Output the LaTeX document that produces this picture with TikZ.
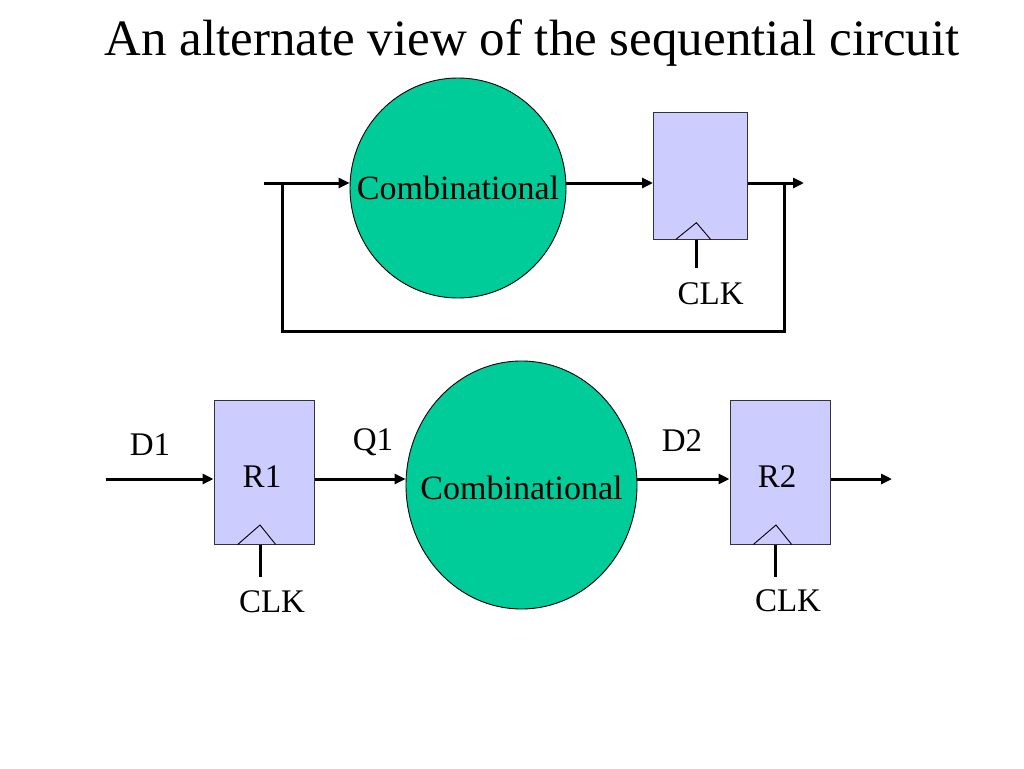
\documentclass[tikz,border=0pt]{standalone}
\usepackage{fontspec}
\setmainfont{Liberation Serif}
\usetikzlibrary{arrows.meta,shapes.geometric,calc}
\definecolor{combgreen}{HTML}{00CC99}
\definecolor{reglav}{HTML}{CCCCFF}
\begin{document}
\begin{tikzpicture}[x=1pt,y=-1pt,
  wire/.style={line width=3pt},
  arr/.style={wire,-{Triangle[length=11pt,width=10pt]}},
  comb/.style={ellipse,draw=black,line width=0.9pt,fill=combgreen,inner sep=0pt},
  reg/.style={rectangle,draw=black!80,line width=1pt,fill=reglav,inner sep=0pt,
    minimum width=94pt,minimum height=127pt},
  regb/.style={reg,minimum width=100pt,minimum height=144pt},
  lbl/.style={inner sep=0pt,font=\fontsize{33}{40}\selectfont},
  clk/.style={line width=0.9pt,black}]
\useasboundingbox (0,0) rectangle (1024,768);
\fill[white] (0,0) rectangle (1024,768);
% title
\node[inner sep=0pt,anchor=base,font=\fontsize{51}{60}\selectfont] (title) at (532,56) {An alternate view of the sequential circuit};
% ---- top circuit ----
\node[comb,minimum width=216pt,minimum height=220pt] (C1) at (458,188) {};
\node[lbl,font=\fontsize{34}{40}\selectfont] (C1t) at (458,188) {Combinational};
\node[reg] (Rt) at (700.5,176) {};
\coordinate (in) at (264,183);
\coordinate (out) at (804,183);
\coordinate (fbL) at (282,183);
\coordinate (fbR) at (784,183);
\coordinate (fbBR) at (784,331);
\coordinate (fbBL) at (282,331);
\draw[arr] (in) -- (in -| C1.west);
\draw[arr] (in -| C1.east) -- (in -| Rt.west);
\draw[arr] (in -| Rt.east) -- (out);
\draw[wire] (fbR) -- (fbBR) -- (fbBL) -- (fbL);
\draw[clk] (675.7,239.5) -- (696.4,222.7) -- (710.7,239.5);
\coordinate (ctop) at (696.4,239.5);
\coordinate (cbot) at (696.4,268);
\draw[wire] (ctop) -- (cbot);
\node[lbl] (clkt) at (710.7,294) {CLK};
% ---- bottom circuit ----
\node[comb,minimum width=231pt,minimum height=248pt] (C2) at (521.5,485) {};
\node[lbl,font=\fontsize{34}{40}\selectfont] (C2t) at (521.5,488) {Combinational};
\node[regb] (R1) at (264,472) {};
\node[regb] (R2) at (780,472) {};
\node[lbl] (R1t) at (262,476.5) {R1};
\node[lbl] (R2t) at (777,476.5) {R2};
\coordinate (bin) at (106,479);
\coordinate (bout) at (892,479);
\draw[arr] (bin) -- (bin -| R1.west);
\draw[arr] (bin -| R1.east) -- (bin -| C2.west);
\draw[arr] (bin -| C2.east) -- (bin -| R2.west);
\draw[arr] (bin -| R2.east) -- (bout);
\draw[clk] (237.7,544.5) -- (260,525) -- (275.7,544.5);
\draw[clk] (753.3,544.5) -- (776,525) -- (791.7,544.5);
\coordinate (c1t) at (260,544.5);
\coordinate (c1b) at (260,577);
\coordinate (c2t) at (775.5,544.5);
\coordinate (c2b) at (775.5,577);
\draw[wire] (c1t) -- (c1b);
\draw[wire] (c2t) -- (c2b);
\node[lbl] (clk1) at (272,602) {CLK};
\node[lbl] (clk2) at (788,601) {CLK};
\node[lbl] (d1) at (150,445) {D1};
\node[lbl] (q1) at (373,442) {Q1};
\node[lbl] (d2) at (682,441) {D2};
\end{tikzpicture}
\end{document}
